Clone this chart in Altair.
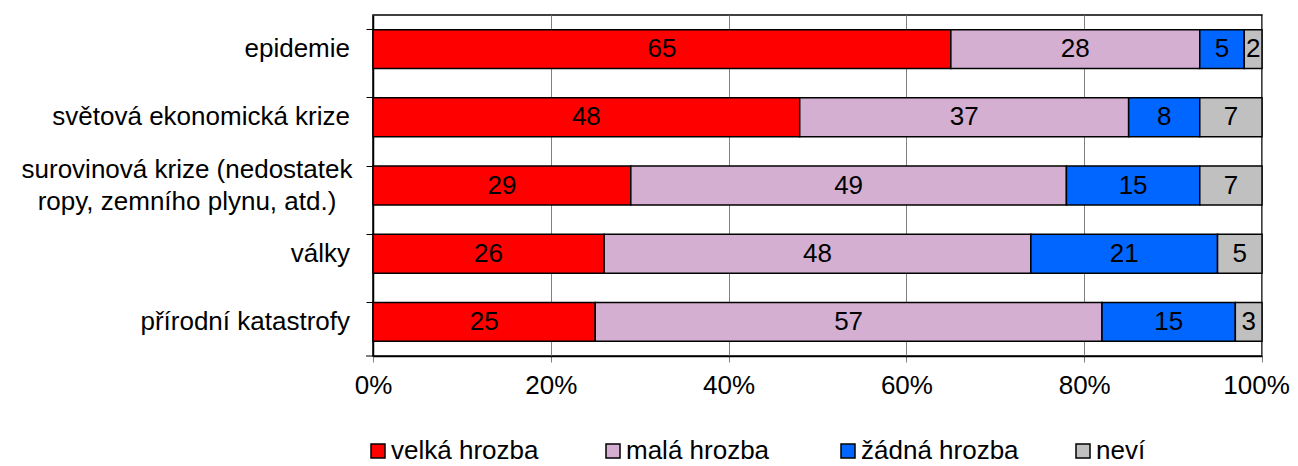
import altair as alt
import pandas as pd

categories = [
    "epidemie",
    "světová ekonomická krize",
    "surovinová krize (nedostatek\nropy, zemního plynu, atd.)",
    "války",
    "přírodní katastrofy",
]
series = ["velká hrozba", "malá hrozba", "žádná hrozba", "neví"]
velka = [65, 48, 29, 26, 25]
mala = [28, 37, 49, 48, 57]
zadna = [5, 8, 15, 21, 15]
nevi = [2, 7, 7, 5, 3]
colors = ["#FF0000", "#D4AFD1", "#0066FF", "#C0C0C0"]
x_ticks = [0, 20, 40, 60, 80, 100]

rows = []
for s_i, (name, vals) in enumerate(zip(series, [velka, mala, zadna, nevi])):
    for c, v in zip(categories, vals):
        rows.append({"cat": c, "series": name, "idx": s_i, "value": v})
df = pd.DataFrame(rows)
cat_df = pd.DataFrame({"cat": categories, "multi": ["\n" in c for c in categories]})

FONT = "Liberation Sans"
FS = 26

y_enc = alt.Y(
    "cat:N",
    sort=categories,
    scale=alt.Scale(paddingInner=0.43, paddingOuter=0.215),
    axis=alt.Axis(
        title=None, labels=False, bandPosition=0, tickSize=7, tickColor="#000000",
        domainColor="#000000", domainWidth=1.5, grid=False,
    ),
)

base = alt.Chart(df).transform_stack(
    stack="value", as_=["x0", "x1"], groupby=["cat"], sort=[alt.SortField("idx", order="ascending")]
).transform_calculate(mid="(datum.x0 + datum.x1) / 2")

bars = base.mark_bar(stroke="#000000", strokeWidth=1.5).encode(
    y=y_enc,
    x=alt.X(
        "x0:Q",
        scale=alt.Scale(domain=[0, 100], nice=False),
        axis=alt.Axis(
            title=None, values=x_ticks, labelExpr="datum.value + '%'", grid=True,
            gridColor="#808080", gridWidth=1, tickColor="#808080", tickSize=6,
            domainColor="#000000", domainWidth=1.5, labelPadding=10, labelFlush=False,
            labelOffset={"condition": {"test": "datum.value == 100", "value": -6}, "value": 0},
            labelFont=FONT, labelFontSize=FS, labelColor="#000000",
        ),
    ),
    x2="x1:Q",
    color=alt.Color(
        "series:N",
        scale=alt.Scale(domain=series, range=colors),
        legend=alt.Legend(
            title=None, orient="none", direction="horizontal", columns=4,
            legendX=-8, legendY=423, gridAlign="all", columnPadding=51,
            symbolType="square", symbolSize=196, symbolStrokeColor="#000000",
            symbolStrokeWidth=1.5, labelOffset=0, labelFont=FONT,
            labelFontSize=FS, labelColor="#000000", padding=0,
        ),
    ),
    order=alt.Order("idx:Q"),
)

texts = base.mark_text(font=FONT, fontSize=FS, color="#000000", baseline="middle", align="center").encode(
    y=alt.Y("cat:N", sort=categories),
    x=alt.X("mid:Q"),
    text=alt.Text("value:Q"),
)

cat_base = alt.Chart(cat_df)
ylab_single = cat_base.transform_filter("!datum.multi").mark_text(
    font=FONT, fontSize=FS, color="#000000", align="right", baseline="middle"
).encode(y=alt.Y("cat:N", sort=categories), x=alt.value(-23), text="cat:N")
ylab_multi = cat_base.transform_filter("datum.multi").mark_text(
    font=FONT, fontSize=FS, color="#000000", align="center", baseline="middle",
    lineBreak="\n", lineHeight=32, dy=-16,
).encode(y=alt.Y("cat:N", sort=categories), x=alt.value(-186), text="cat:N")

bottom_tick = alt.Chart(cat_df.head(1)).mark_rule(color="#000000", strokeWidth=1).encode(
    x=alt.value(-7), x2=alt.value(0), y=alt.value(341)
)

chart = alt.layer(bars, texts, ylab_single, ylab_multi, bottom_tick).properties(
    width=889, height=341,
    autosize=alt.AutoSizeParams(type="none"),
    padding={"left": 365, "top": 7, "right": 28, "bottom": 110},
).configure_view(stroke="#000000", strokeWidth=1.5)

chart.save("out.html", embed_options={"renderer": "svg", "actions": False})
